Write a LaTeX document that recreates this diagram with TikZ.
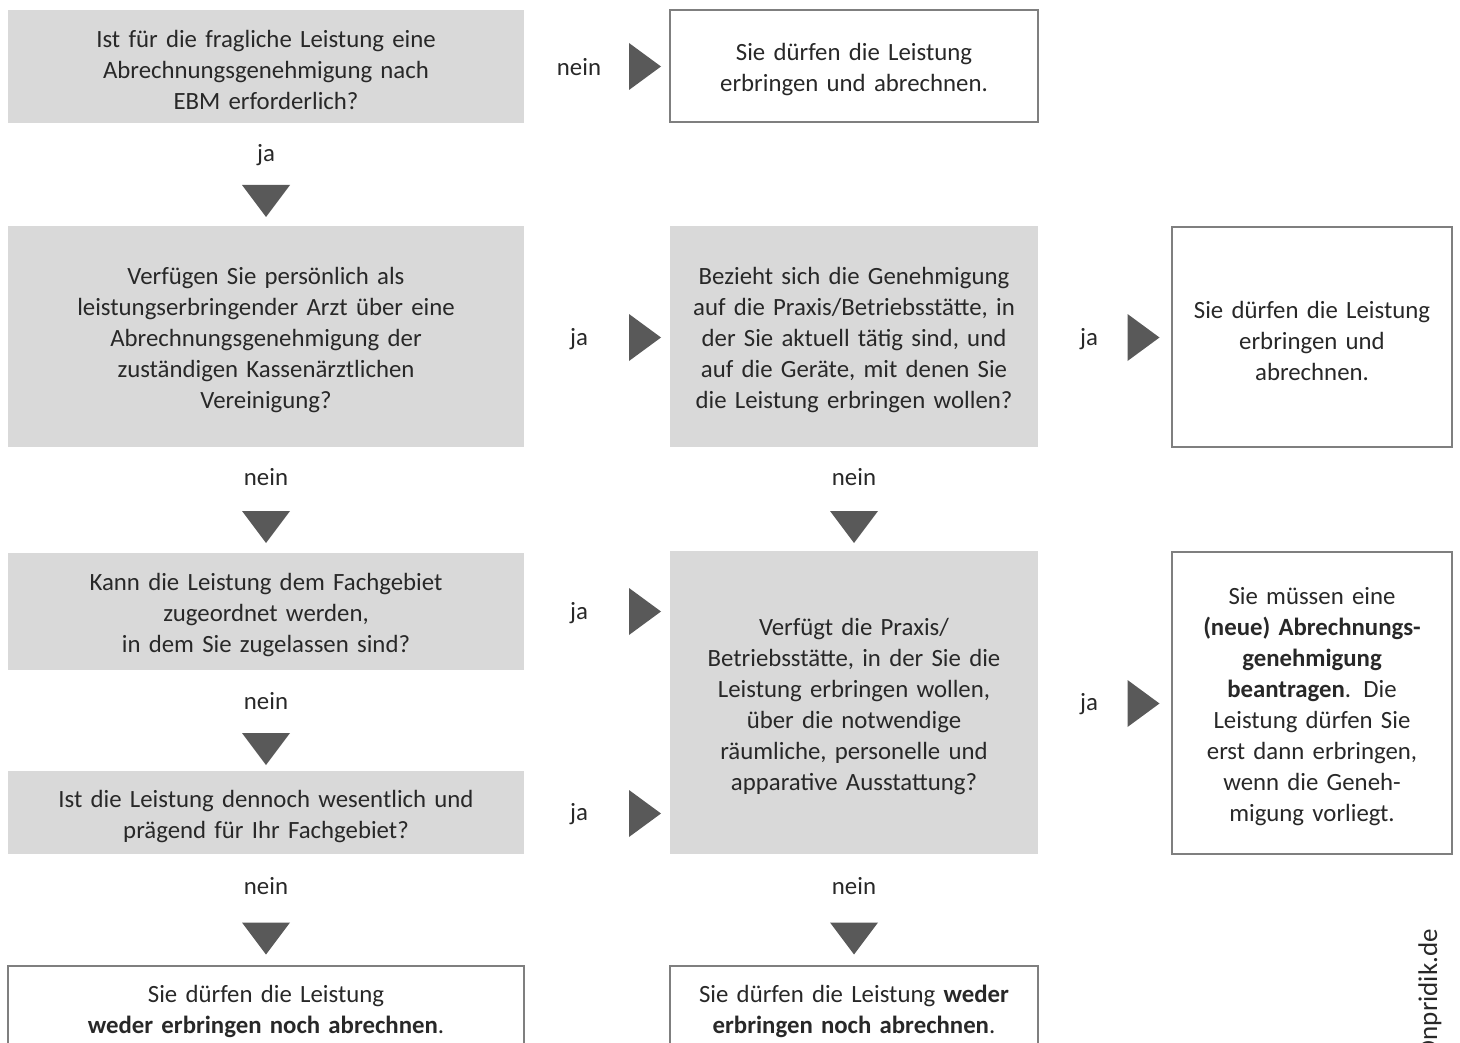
\documentclass[tikz,border=0pt]{standalone}
\usepackage{fontspec}
\setmainfont{Carlito}
\definecolor{boxgray}{RGB}{217,217,217}
\definecolor{tri}{RGB}{89,89,89}
\definecolor{frame}{RGB}{127,127,127}
\definecolor{ink}{RGB}{40,40,40}
\begin{document}
\begin{tikzpicture}[x=1pt,y=-1pt,
  every node/.style={text=ink,font=\fontsize{24.8}{31}\selectfont,inner sep=0pt},
  qbox/.style={fill=boxgray,draw=none,align=center,text width=#1,execute at begin node={\rule{0pt}{25pt}}},
  abox/.style={fill=white,draw=frame,line width=2pt,align=center,text width=#1,execute at begin node={\rule{0pt}{25pt}}},
  lbl/.style={},
  rtri/.pic={\fill[tri] (-16,-23.5) -- (16,0) -- (-16,23.5) -- cycle;},
  dtri/.pic={\fill[tri] (-24,-16) -- (24,-16) -- (0,16) -- cycle;}
]
\useasboundingbox (0,0) rectangle (1460,1043);
% question boxes
\node[qbox=505pt,minimum width=516pt,minimum height=113pt] (A) at (266,66.5)
  {Ist für die fragliche Leistung eine\\Abrechnungsgenehmigung nach\\EBM erforderlich?};
\node[qbox=505pt,minimum width=516pt,minimum height=221pt] (C) at (266,336.5)
  {Verfügen Sie persönlich als\\leistungserbringender Arzt über eine\\Abrechnungsgenehmigung der\\zuständigen Kassenärztlichen\\Vereinigung?};
\node[qbox=362pt,minimum width=368pt,minimum height=221pt] (D) at (854,336.5)
  {Bezieht sich die Genehmigung\\auf die Praxis/Betriebsstätte, in\\der Sie aktuell tätig sind, und\\auf die Geräte, mit denen Sie\\die Leistung erbringen wollen?};
\node[qbox=505pt,minimum width=516pt,minimum height=117pt] (F) at (266,611.5)
  {Kann die Leistung dem Fachgebiet\\zugeordnet werden,\\in dem Sie zugelassen sind?};
\node[qbox=362pt,minimum width=368pt,minimum height=303pt] (G) at (854,702.5)
  {Verfügt die Praxis/\\Betriebsstätte, in der Sie die\\Leistung erbringen wollen,\\über die notwendige\\räumliche, personelle und\\apparative Ausstattung?};
\node[qbox=505pt,minimum width=516pt,minimum height=83pt] (H) at (266,812.5)
  {Ist die Leistung dennoch wesentlich und\\prägend für Ihr Fachgebiet?};
% answer boxes
\node[abox=355pt,minimum width=368pt,minimum height=112pt] (B) at (854,66)
  {Sie dürfen die Leistung\\erbringen und abrechnen.};
\node[abox=272pt,minimum width=280pt,minimum height=220pt] (E) at (1312,337)
  {Sie dürfen die Leistung\\erbringen und\\abrechnen.};
\node[abox=272pt,minimum width=280pt,minimum height=302pt] (I) at (1312,703)
  {Sie müssen eine\\\textbf{(neue) Abrechnungs-}\\\textbf{genehmigung}\\\textbf{beantragen}. Die\\Leistung dürfen Sie\\erst dann erbringen,\\wenn die Geneh-\\migung vorliegt.};
\node[abox=505pt,minimum width=516pt,minimum height=84pt] (J) at (266,1008)
  {Sie dürfen die Leistung\\\textbf{weder erbringen noch abrechnen}.};
\node[abox=362pt,minimum width=368pt,minimum height=84pt] (K) at (854,1008)
  {Sie dürfen die Leistung \textbf{weder}\\\textbf{erbringen noch abrechnen}.};
% labels
\node[lbl] (l1) at (579,67) {nein};
\node[lbl] (l2) at (266,155) {ja};
\node[lbl] (l3) at (579,339) {ja};
\node[lbl] (l4) at (1089,339) {ja};
\node[lbl] (l5) at (266,477) {nein};
\node[lbl] (l6) at (854,477) {nein};
\node[lbl] (l7) at (579,613) {ja};
\node[lbl] (l8) at (266,701) {nein};
\node[lbl] (l9) at (579,814) {ja};
\node[lbl] (l10) at (1089,704) {ja};
\node[lbl] (l11) at (266,886) {nein};
\node[lbl] (l12) at (854,886) {nein};
% arrow triangles
\pic at (645,66.5) {rtri};
\pic at (266,201) {dtri};
\pic at (645,337.5) {rtri};
\pic at (1143.5,337.5) {rtri};
\pic at (266,527) {dtri};
\pic at (854,527) {dtri};
\pic at (645,611.5) {rtri};
\pic at (266,749) {dtri};
\pic at (645,813.5) {rtri};
\pic at (1143.5,703.5) {rtri};
\pic at (266,938.5) {dtri};
\pic at (854,938.5) {dtri};
% watermark
\node[rotate=90,anchor=east,font=\fontsize{27}{31}\selectfont] (wm) at (1430,929) {Onpridik.de};
\end{tikzpicture}
\end{document}
